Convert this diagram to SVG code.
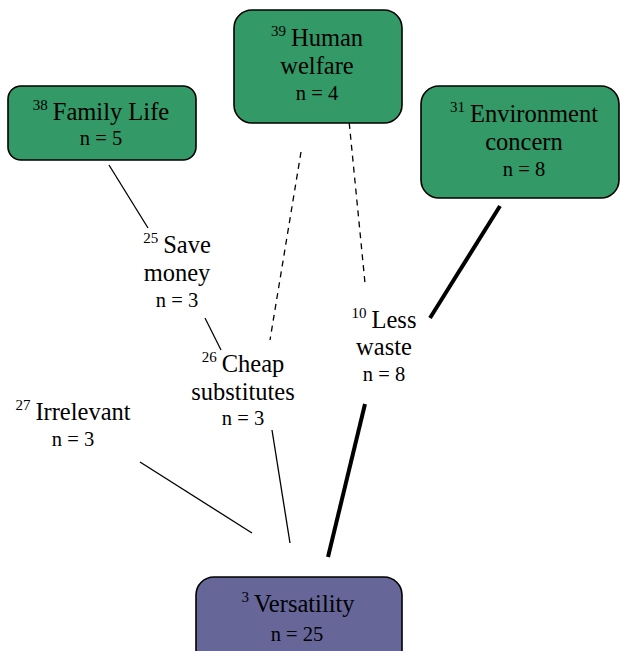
<svg xmlns="http://www.w3.org/2000/svg" width="620" height="651" viewBox="0 0 620 651">
  <style>
    text { fill: #000; text-anchor: middle; }
    .t { font-size: 24.5px; }
    .n { font-size: 20.5px; }
    .s { font-size: 15px; }
    .box { stroke: #000; stroke-width: 1.6; }
    .green { fill: #339966; }
    .purple { fill: #666699; }
    .thin { stroke: #000; stroke-width: 1.3; fill: none; }
    .dash { stroke: #000; stroke-width: 1.3; stroke-dasharray: 6 5; fill: none; }
    .thick { stroke: #000; stroke-width: 4; fill: none; }
  </style>
  <rect width="620" height="651" fill="#fff"/>

  <g id="connectors">
    <line class="thin" x1="109" y1="165" x2="148" y2="228"/>
    <line class="thin" x1="205" y1="318" x2="221" y2="350"/>
    <line class="dash" x1="301" y1="152" x2="270" y2="340"/>
    <line class="dash" x1="346" y1="90" x2="365" y2="283"/>
    <line class="thick" x1="500" y1="206" x2="430" y2="318"/>
    <line class="thick" x1="365" y1="404" x2="328" y2="557"/>
    <line class="thin" x1="272" y1="430" x2="290" y2="543"/>
    <line class="thin" x1="140" y1="462" x2="252" y2="533"/>
  </g>

  <g font-family="'Liberation Serif', 'Times New Roman', Times, serif">
  <g id="family-life">
    <rect class="box green" x="8" y="86" width="188" height="74" rx="13"/>
    <text class="t" x="101" y="120"><tspan class="s" dy="-10">38</tspan><tspan dy="10" dx="5">Family Life</tspan></text>
    <text class="n" x="101" y="145">n = 5</text>
  </g>

  <g id="human-welfare">
    <rect class="box green" x="234" y="10" width="168" height="113" rx="18"/>
    <text class="t" x="317" y="46"><tspan class="s" dy="-10">39</tspan><tspan dy="10" dx="5">Human</tspan></text>
    <text class="t" x="317" y="74">welfare</text>
    <text class="n" x="317" y="100">n = 4</text>
  </g>

  <g id="environment-concern">
    <rect class="box green" x="421" y="86" width="198" height="112" rx="18"/>
    <text class="t" x="524" y="122"><tspan class="s" dy="-10">31</tspan><tspan dy="10" dx="5">Environment</tspan></text>
    <text class="t" x="524" y="150">concern</text>
    <text class="n" x="524" y="176">n = 8</text>
  </g>

  <g id="save-money">
    <text class="t" x="177" y="253"><tspan class="s" dy="-10">25</tspan><tspan dy="10" dx="5">Save</tspan></text>
    <text class="t" x="177" y="281">money</text>
    <text class="n" x="177" y="307">n = 3</text>
  </g>

  <g id="cheap-substitutes">
    <text class="t" x="243" y="372"><tspan class="s" dy="-10">26</tspan><tspan dy="10" dx="5">Cheap</tspan></text>
    <text class="t" x="243" y="400">substitutes</text>
    <text class="n" x="243" y="425">n = 3</text>
  </g>

  <g id="irrelevant">
    <text class="t" x="73" y="420"><tspan class="s" dy="-10">27</tspan><tspan dy="10" dx="5">Irrelevant</tspan></text>
    <text class="n" x="73" y="446">n = 3</text>
  </g>

  <g id="less-waste">
    <text class="t" x="384" y="328"><tspan class="s" dy="-10">10</tspan><tspan dy="10" dx="5">Less</tspan></text>
    <text class="t" x="384" y="355">waste</text>
    <text class="n" x="384" y="381">n = 8</text>
  </g>

  <g id="versatility">
    <rect class="box purple" x="196" y="577" width="206" height="90" rx="18"/>
    <text class="t" x="298" y="612"><tspan class="s" dy="-10">3</tspan><tspan dy="10" dx="5">Versatility</tspan></text>
    <text class="n" x="297" y="641">n = 25</text>
  </g>
  </g>
</svg>
